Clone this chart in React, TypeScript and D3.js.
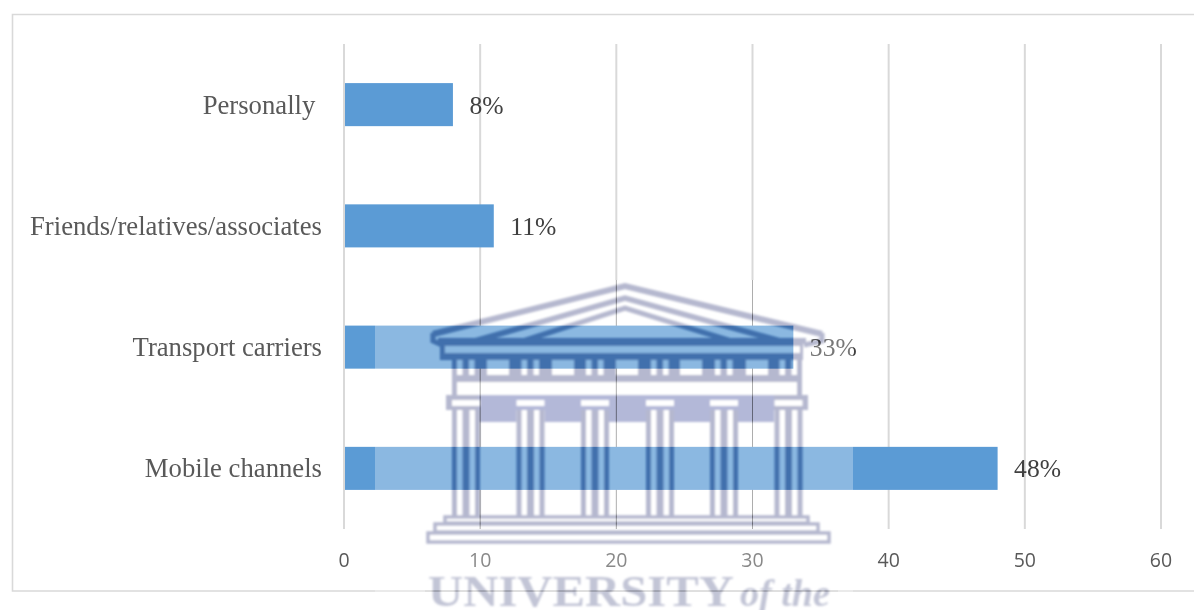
import React from "react";
import * as d3 from "d3";

const categories = ["Personally ", "Friends/relatives/associates", "Transport carriers", "Mobile channels"];
const shares = [8, 11, 33, 48];
const shareLabels = ["8%", "11%", "33%", "48%"];
const axisTicks = [0, 10, 20, 30, 40, 50, 60];

const WIDTH = 1194;
const HEIGHT = 610;
const SERIF = "'Liberation Serif', 'Times New Roman', serif";
const SANS = "'Open Sans', 'Noto Sans', sans-serif";

const x = d3.scaleLinear().domain([0, 60]).range([344, 1161]);
const y = d3.scaleBand<string>().domain(categories).range([44, 529]).paddingInner(0.645).paddingOuter(0.3225);

// Crest behind the chart: column centres and the panels of the frieze.
const columnCentres = [466, 530.5, 595, 660, 724, 788.5];
const friezeWindows = [487, 552, 616, 680, 746];
const steps = [
  [445, 517, 363, 6],
  [435, 524, 383, 8],
  [428, 533, 401, 9],
];

function Crest({ ink, paper, band, letters }: { ink: string; paper: string; band: string; letters: string }) {
  const roof = d3.line();
  return (
    <g>
      {/* pediment */}
      <path d={roof([[433, 334], [625, 286], [822, 334]]) ?? ""} fill="none" stroke={ink} strokeWidth={6} />
      <path d={roof([[475, 341], [625, 298], [780, 341]]) ?? ""} fill="none" stroke={ink} strokeWidth={5.5} />
      <path d={roof([[523, 341], [625, 308], [731, 341]]) ?? ""} fill="none" stroke={ink} strokeWidth={5} />
      <path d={roof([[433, 333], [433, 341], [442, 345]]) ?? ""} fill="none" stroke={ink} strokeWidth={5} />
      <path d={roof([[822, 333], [822, 341], [804, 345]]) ?? ""} fill="none" stroke={ink} strokeWidth={5} />
      <rect x={438} y={338} width={368} height={6} fill={ink} />
      {/* cornice */}
      <rect x={440} y={344} width={363} height={16} fill={ink} />
      <rect x={445} y={346} width={355} height={7} fill={paper} />
      {/* frieze and architrave */}
      <rect x={452} y={358} width={350} height={38} fill={ink} />
      {friezeWindows.map((w) => (
        <rect key={w} x={w} y={360} width={22} height={15} fill={paper} />
      ))}
      {columnCentres.map((c) => (
        <g key={c}>
          {[-9, 3].map((d) => (
            <rect key={d} x={c + d} y={360} width={5.5} height={15} fill={paper} />
          ))}
        </g>
      ))}
      <rect x={457} y={382} width={340} height={13} fill={paper} />
      {/* capitals band */}
      <rect x={446} y={395} width={362} height={15} fill={ink} />
      <rect x={478} y={395} width={296} height={27} fill={band} />
      {columnCentres.map((c) => (
        <g key={c}>
          <rect x={c - 14} y={410} width={28} height={108} fill={paper} />
          <rect x={c - 14} y={410} width={5} height={108} fill={ink} />
          <rect x={c - 3.5} y={410} width={7} height={108} fill={ink} />
          <rect x={c + 9} y={410} width={5} height={108} fill={ink} />
          <rect x={c - 14} y={400} width={28} height={6} fill={paper} />
        </g>
      ))}
      {/* steps */}
      {steps.map(([sx, sy, sw, sh]) => (
        <rect key={sy} x={sx} y={sy} width={sw} height={sh} fill={paper} stroke={ink} strokeWidth={3.5} />
      ))}
      {/* lettering */}
      <text x={428} y={606} fontFamily={SERIF} fontWeight={700} fontSize={44} fill={letters} textLength={306} lengthAdjust="spacingAndGlyphs">
        UNIVERSITY
      </text>
      <text x={740} y={606} fontFamily={SERIF} fontStyle="italic" fontWeight={700} fontSize={38} fill={letters} textLength={90} lengthAdjust="spacingAndGlyphs">
        of the
      </text>
    </g>
  );
}

export default function App() {
  const veilLeft = 375;
  const veilRight = 853;
  const veilTop = 280;
  const plotTop = 44;
  const plotBottom = 529;
  const frameBottom = 591;

  return (
    <svg
      width={WIDTH}
      height={HEIGHT}
      viewBox={`0 0 ${WIDTH} ${HEIGHT}`}
      style={{ position: "absolute", left: 0, top: 0, display: "block", background: "#fff" }}
    >
      <defs>
        <filter id="soft" x="-5%" y="-5%" width="110%" height="110%">
          <feGaussianBlur stdDeviation={1} />
        </filter>
        <mask id="veilMask" maskUnits="userSpaceOnUse" x={0} y={0} width={WIDTH} height={HEIGHT}>
          <rect width={WIDTH} height={HEIGHT} fill="#fff" />
          <g filter="url(#soft)">
            <Crest ink="#000" paper="#fff" band="#000" letters="#000" />
          </g>
        </mask>
      </defs>

      {/* chart frame, open on the right */}
      <path d={`M${WIDTH},14.5 H12.5 V${frameBottom} H${veilLeft + 50}`} fill="none" stroke="#d9d9d9" strokeWidth={1.6} />
      <path d={`M${veilRight - 15},${frameBottom} H${WIDTH}`} fill="none" stroke="#d9d9d9" strokeWidth={1.6} />
      <path d={`M${veilLeft + 50},${frameBottom} H${veilRight - 15}`} fill="none" stroke="#a8a8a8" strokeWidth={1} />

      {/* gridlines; those under the crest read thinner and darker */}
      {axisTicks.map((t) => {
        const px = x(t);
        const underCrest = px > veilLeft && px < veilRight;
        return (
          <g key={t}>
            <line x1={px} x2={px} y1={plotTop} y2={underCrest ? veilTop : plotBottom} stroke="#d9d9d9" strokeWidth={2} />
            {underCrest && <line x1={px} x2={px} y1={veilTop} y2={plotBottom} stroke="#8c8c8c" strokeWidth={1} />}
          </g>
        );
      })}

      {/* bars */}
      {categories.map((c, i) => (
        <rect
          key={c}
          x={x(0) + 1}
          y={y(c)}
          width={x(shares[i]) - x(0) - 1}
          height={y.bandwidth()}
          fill="#5b9bd5"
        />
      ))}

      {/* category labels */}
      {categories.map((c) => (
        <text
          key={c}
          x={322}
          y={(y(c) ?? 0) + y.bandwidth() / 2 + 9}
          textAnchor="end"
          fontFamily={SERIF}
          fontSize={26.7}
          fill="#595959"
          style={{ whiteSpace: "pre" }}
        >
          {c}
        </text>
      ))}

      {/* value labels */}
      {categories.map((c, i) => (
        <text
          key={c}
          x={x(shares[i]) + 16.5}
          y={(y(c) ?? 0) + y.bandwidth() / 2 + 9}
          fontFamily={SERIF}
          fontSize={25.6}
          fill="#404040"
        >
          {shareLabels[i]}
        </text>
      ))}

      {/* axis tick labels */}
      {axisTicks.map((t) => (
        <text key={t} x={x(t)} y={567} textAnchor="middle" fontFamily={SANS} fontSize={19.5} fill="#595959">
          {t}
        </text>
      ))}

      {/* pale veil of the crest image, cut away where the crest itself prints */}
      <rect
        x={veilLeft}
        y={veilTop}
        width={veilRight - veilLeft}
        height={HEIGHT - veilTop}
        fill="#fff"
        opacity={0.29}
        mask="url(#veilMask)"
      />

      {/* crest printed over everything */}
      <g style={{ mixBlendMode: "multiply" }} filter="url(#soft)">
        <Crest ink="#b5b8cf" paper="#fff" band="#b3b8d8" letters="#c2c5d6" />
      </g>
    </svg>
  );
}
